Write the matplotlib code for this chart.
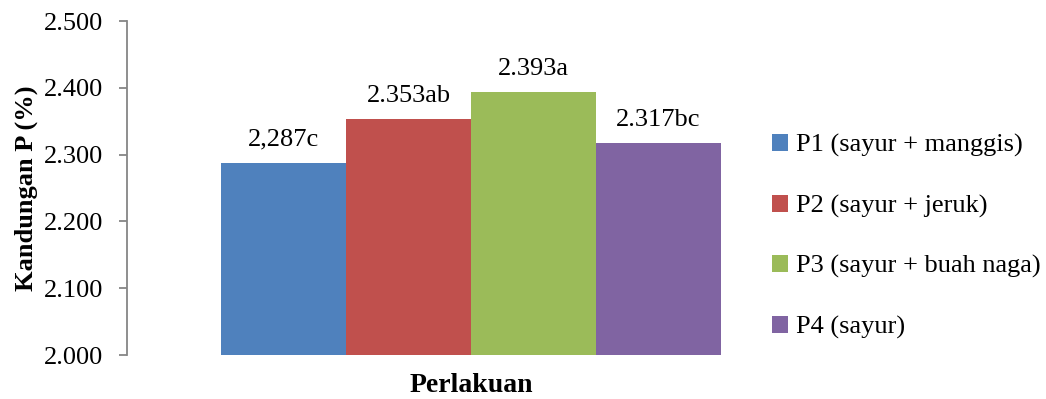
import numpy as np
import matplotlib
matplotlib.use("Agg")
import matplotlib.pyplot as plt
from matplotlib.patches import Patch

plt.rcParams['font.family'] = ['Liberation Serif', 'DejaVu Serif']

# treatment data
perlakuan = ['P1 (sayur + manggis)', 'P2 (sayur + jeruk)',
             'P3 (sayur + buah naga)', 'P4 (sayur)']
kandungan_p = [2.287, 2.353, 2.393, 2.317]
label_teks = ['2,287c', '2.353ab', '2.393a', '2.317bc']
warna = ['#4f81bd', '#c0504d', '#9bbb59', '#8064a2']
yticks = [2.0, 2.1, 2.2, 2.3, 2.4, 2.5]
ytick_labels = ['2.000', '2.100', '2.200', '2.300', '2.400', '2.500']

fs = 19

fig = plt.figure(figsize=(10.46, 3.99), dpi=100)
ax = fig.add_axes([127/1046, 1-355/399, (760-127)/1046, (355-21)/399])

x = np.arange(len(kandungan_p))
bars = ax.bar(x, np.array(kandungan_p) - 2.0, bottom=2.0, width=1.0,
              color=warna, edgecolor='none')

for b, t in zip(bars, label_teks):
    ax.annotate(t, (b.get_x() + b.get_width()/2, b.get_y() + b.get_height()),
                xytext=(0, 9), textcoords='offset points',
                ha='center', va='bottom', fontsize=fs)

ax.set_xlim(-0.5 - 94/125, 3.5 + 39/125)
ax.set_ylim(2.0, 2.5)
ax.set_yticks(yticks)
ax.set_yticklabels(ytick_labels, fontsize=fs)
ax.set_xticks([])

for s in ['top', 'right', 'bottom']:
    ax.spines[s].set_visible(False)
ax.spines['left'].set_color('#868686')
ax.spines['left'].set_linewidth(1.3)
ax.tick_params(axis='y', length=6, width=1.3, color='#868686', pad=11)

ax.set_ylabel('Kandungan P (%)', fontsize=fs, fontweight='bold', labelpad=4)
fig.text(471/1046, 1-386/399, 'Perlakuan', ha='center', va='center',
         fontsize=20, fontweight='bold')

handles = [Patch(facecolor=c, edgecolor='none') for c in warna]
fig.legend(handles, perlakuan, loc='upper left',
           bbox_to_anchor=(759/1046, 1-121/399), frameon=False,
           fontsize=fs, handlelength=0.6, handleheight=0.6,
           handletextpad=0.3, labelspacing=1.42, borderpad=0)

fig.savefig('out.png', dpi=100)
